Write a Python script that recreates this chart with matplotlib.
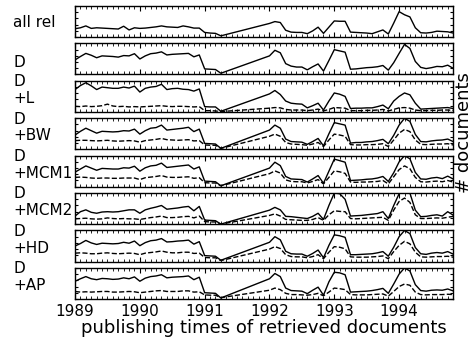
import numpy as np
import matplotlib
matplotlib.use("Agg")
import matplotlib.pyplot as plt
from matplotlib.ticker import MultipleLocator, NullFormatter

# months since Jan 1989 (no data between May 1991 and Dec 1991)
months = list(range(0, 28)) + list(range(36, 71))

all_rel = [27, 30, 36, 28, 30, 29, 28, 27, 26, 35, 23, 30, 28, 29, 31, 33, 36, 33, 32, 31,
           36, 33, 29, 29, 15, 13, 12, 4,
           44, 50, 47, 22, 16, 15, 15, 11, 20, 32, 12, 32, 52, 51, 51, 16, 15, 14, 13, 11,
           17, 23, 10, 45, 82, 72, 65, 30, 14, 13, 15, 19, 18, 17, 13]

d_solid = [47, 58, 68, 62, 54, 60, 59, 58, 56, 61, 60, 67, 50, 60, 67, 69, 73, 63, 65, 66,
           67, 68, 57, 63, 18, 17, 16, 4,
           60, 78, 70, 35, 27, 24, 24, 15, 25, 34, 11, 45, 80, 76, 72, 17, 18, 20, 22, 23,
           25, 29, 14, 38, 68, 97, 84, 42, 23, 19, 22, 26, 25, 30, 20]

l_solid = [72, 85, 94, 84, 72, 80, 78, 76, 76, 80, 77, 83, 64, 76, 80, 82, 89, 72, 75, 76,
           73, 72, 67, 74, 17, 16, 16, 2,
           58, 69, 56, 35, 28, 26, 25, 13, 20, 28, 6, 35, 61, 57, 50, 11, 12, 12, 13, 13,
           17, 22, 10, 35, 50, 61, 55, 28, 9, 10, 11, 12, 13, 14, 11]
l_dash = [18, 17, 19, 17, 18, 20, 25, 19, 17, 18, 16, 17, 16, 17, 18, 19, 20, 18, 17, 18,
          18, 17, 16, 17, 4, 4, 3, 1,
          12, 14, 13, 8, 6, 6, 6, 4, 6, 9, 3, 8, 14, 13, 12, 4, 4, 4, 5, 5,
          6, 8, 3, 8, 13, 14, 12, 6, 4, 4, 5, 5, 6, 6, 5]

bw_solid = [46, 58, 68, 60, 52, 58, 57, 56, 57, 60, 59, 65, 49, 60, 68, 70, 78, 62, 64, 66,
            68, 71, 57, 65, 19, 18, 17, 3,
            62, 78, 68, 33, 25, 24, 23, 16, 25, 35, 11, 50, 86, 82, 78, 20, 22, 22, 24, 25,
            28, 32, 18, 45, 78, 100, 90, 48, 25, 24, 27, 29, 30, 33, 25]
bw_dash = [28, 29, 29, 28, 27, 28, 29, 27, 26, 27, 28, 27, 23, 28, 30, 32, 35, 31, 30, 29,
           30, 31, 27, 28, 14, 13, 13, 3,
           42, 49, 42, 22, 17, 16, 15, 13, 17, 22, 9, 30, 49, 46, 42, 15, 14, 14, 15, 15,
           16, 18, 9, 30, 52, 64, 57, 30, 16, 15, 16, 17, 17, 18, 14]

mcm1_solid = [47, 57, 67, 60, 53, 59, 58, 57, 57, 61, 60, 66, 50, 61, 67, 69, 76, 62, 64, 66,
              68, 70, 57, 64, 18, 17, 16, 3,
              60, 79, 68, 33, 25, 24, 23, 15, 25, 36, 11, 50, 89, 84, 79, 20, 21, 22, 24, 25,
              28, 33, 17, 45, 80, 100, 90, 46, 25, 24, 28, 30, 26, 34, 25]
mcm1_dash = [30, 31, 30, 28, 27, 28, 28, 27, 27, 28, 28, 28, 23, 29, 31, 33, 36, 31, 30, 30,
             31, 32, 27, 29, 13, 12, 12, 3,
             42, 51, 44, 22, 17, 16, 16, 12, 17, 23, 9, 30, 51, 48, 43, 15, 14, 15, 15, 16,
             17, 20, 9, 32, 55, 67, 58, 30, 16, 15, 17, 18, 16, 20, 15]

mcm2_solid = [26, 40, 46, 38, 35, 39, 40, 39, 40, 43, 46, 46, 35, 46, 51, 55, 60, 48, 50, 52,
              55, 57, 43, 57, 13, 12, 11, 0,
              45, 54, 46, 25, 24, 22, 20, 18, 25, 35, 15, 60, 100, 98, 80, 26, 27, 28, 30, 32,
              34, 40, 18, 60, 98, 112, 100, 45, 24, 25, 28, 30, 26, 40, 29]
mcm2_dash = [17, 18, 19, 17, 16, 17, 20, 18, 17, 18, 17, 17, 15, 18, 21, 23, 26, 21, 21, 22,
             24, 25, 20, 26, 8, 7, 7, 0,
             28, 33, 26, 15, 14, 13, 12, 12, 15, 21, 12, 30, 43, 41, 40, 18, 17, 18, 19, 20,
             21, 22, 12, 45, 73, 84, 70, 30, 18, 18, 19, 20, 19, 22, 25]

hd_solid = [50, 58, 68, 60, 55, 59, 58, 57, 58, 62, 59, 66, 51, 61, 67, 69, 74, 63, 64, 66,
            67, 69, 56, 64, 19, 18, 17, 4,
            62, 80, 70, 33, 25, 24, 24, 17, 26, 37, 12, 52, 86, 83, 78, 22, 22, 23, 24, 25,
            28, 32, 17, 46, 80, 100, 90, 45, 25, 23, 27, 29, 27, 32, 24]
hd_dash = [27, 28, 27, 25, 25, 27, 28, 26, 25, 26, 27, 26, 22, 27, 29, 31, 34, 30, 28, 28,
           30, 30, 26, 27, 13, 12, 12, 3,
           40, 48, 42, 22, 16, 15, 15, 12, 16, 22, 9, 30, 48, 46, 41, 15, 14, 14, 14, 15,
           16, 18, 9, 32, 52, 65, 57, 30, 15, 14, 15, 16, 16, 17, 14]

ap_solid = [57, 65, 72, 65, 62, 66, 65, 63, 64, 68, 65, 71, 57, 67, 72, 74, 78, 68, 70, 71,
            72, 74, 62, 70, 20, 19, 18, 3,
            65, 82, 72, 35, 27, 26, 25, 17, 28, 38, 12, 55, 86, 84, 78, 22, 23, 24, 25, 27,
            30, 34, 18, 48, 80, 100, 90, 46, 27, 25, 28, 29, 28, 32, 26]
ap_dash = [24, 22, 23, 22, 23, 24, 24, 22, 22, 23, 24, 23, 20, 22, 24, 26, 27, 24, 24, 24,
           26, 26, 22, 23, 13, 12, 12, 4,
           28, 35, 30, 18, 14, 14, 13, 12, 14, 18, 10, 22, 35, 33, 30, 14, 13, 13, 13, 14,
           15, 16, 9, 24, 40, 48, 44, 22, 14, 13, 14, 14, 14, 15, 14]

labels = ["all rel", "D", "D\n+L", "D\n+BW", "D\n+MCM1", "D\n+MCM2", "D\n+HD", "D\n+AP"]
solids = [all_rel, d_solid, l_solid, bw_solid, mcm1_solid, mcm2_solid, hd_solid, ap_solid]
dashes = [None, None, l_dash, bw_dash, mcm1_dash, mcm2_dash, hd_dash, ap_dash]
label_y = [0.48, 0.39, 0.7, 0.7, 0.7, 0.7, 0.7, 0.7]

t = 1989 + np.array(months) / 12.0

fig, axes = plt.subplots(8, 1, sharex=True, figsize=(4.72, 3.37), dpi=100,
                         gridspec_kw=dict(left=0.159, right=0.96, top=0.982,
                                          bottom=0.113, hspace=0.206))

for i, ax in enumerate(axes):
    ax.plot(t, solids[i], "k-", lw=1.0)
    if dashes[i] is not None:
        ax.plot(t, dashes[i], "k--", lw=1.0)
    ax.set_ylim(0, 100)
    ax.set_xlim(t[0], t[-1])
    ax.yaxis.set_major_locator(MultipleLocator(20))
    ax.yaxis.set_major_formatter(NullFormatter())
    ax.xaxis.set_major_locator(MultipleLocator(1))
    ax.xaxis.set_minor_locator(MultipleLocator(1 / 12))
    ax.tick_params(which="both", direction="in", top=True, right=True, labelsize=11)
    ax.tick_params(which="major", length=3.5, width=0.8)
    ax.tick_params(which="minor", length=2, width=0.6)
    ax.tick_params(axis="y", which="major", length=2.5)
    for s in ax.spines.values():
        s.set_linewidth(1.0)
    ax.text(-0.163, label_y[i], labels[i], transform=ax.transAxes, fontsize=11,
            ha="left", va="center", linespacing=1.15)

axes[-1].xaxis.set_major_formatter(plt.FormatStrFormatter("%d"))
axes[-1].set_xlabel("publishing times of retrieved documents", fontsize=13, labelpad=0)
fig.text(455 / 472, 1 - 133 / 337, "# documents", rotation=90, fontsize=13,
         ha="left", va="center")

fig.savefig("out.png", dpi=100)
